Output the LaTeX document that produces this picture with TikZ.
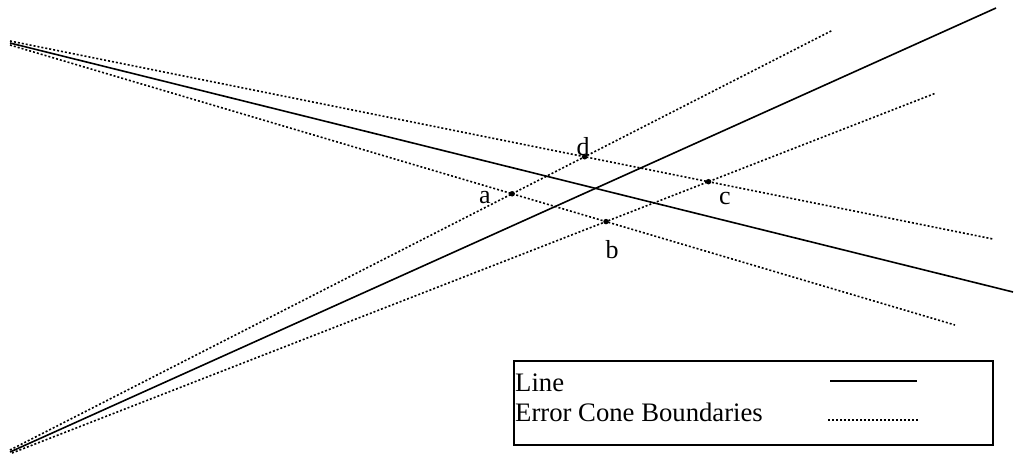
\documentclass[tikz,border=0pt]{standalone}
\usepackage{fontspec}
\setmainfont{Liberation Serif}
\usetikzlibrary{calc}
\begin{document}
\begin{tikzpicture}[x=1pt,y=-1pt,
  cone/.style={line width=1.6pt, dash pattern=on 2pt off 2pt},
  solidline/.style={line width=1.6pt},
  ptdot/.style={circle,fill,inner sep=0pt,minimum size=5.5pt},
  lbl/.style={font=\fontsize{26}{28}\selectfont, inner sep=0pt},
  legtext/.style={font=\fontsize{26.7}{30}\selectfont, inner sep=0pt, anchor=base west}]
\useasboundingbox (0,0) rectangle (1016,456);
% end points
\coordinate (L1s) at (10,43);  \coordinate (L1e) at (1013,292);
\coordinate (L2s) at (10,452); \coordinate (L2e) at (996,8);
\coordinate (U1s) at (10,41);  \coordinate (U1e) at (993,239);
\coordinate (D1s) at (10,45);  \coordinate (D1e) at (955,325);
\coordinate (U2s) at (10,450); \coordinate (U2e) at (833,30);
\coordinate (D2s) at (12,453); \coordinate (D2e) at (936,93);
% lines
\draw[solidline] (L1s) -- (L1e);
\draw[solidline] (L2s) -- (L2e);
\draw[cone] (U1s) -- (U1e);
\draw[cone] (D1s) -- (D1e);
\draw[cone] (U2s) -- (U2e);
\draw[cone] (D2s) -- (D2e);
% intersection points
\coordinate (a) at (intersection of U2s--U2e and D1s--D1e);
\coordinate (d) at (intersection of U2s--U2e and U1s--U1e);
\coordinate (c) at (intersection of U1s--U1e and D2s--D2e);
\coordinate (b) at (intersection of D1s--D1e and D2s--D2e);
\node[ptdot] (pa) at (a) {};
\node[ptdot] (pb) at (b) {};
\node[ptdot] (pc) at (c) {};
\node[ptdot] (pd) at (d) {};
\node[lbl] (la) at (485,198) {a};
\node[lbl] (lb) at (612,250) {b};
\node[lbl] (lc) at (725,198) {c};
\node[lbl] (ld) at (583,147) {d};
% legend
\draw[line width=1.8pt] (514,361) rectangle (993,445);
\node[legtext] (t1) at (515,391) {Line};
\node[legtext] (t2) at (515,421) {Error Cone Boundaries};
\coordinate (s1a) at (830,381); \coordinate (s1b) at (917,381);
\coordinate (s2a) at (828,420); \coordinate (s2b) at (918,420);
\draw[solidline] (s1a) -- (s1b);
\draw[cone] (s2a) -- (s2b);
\end{tikzpicture}
\end{document}
